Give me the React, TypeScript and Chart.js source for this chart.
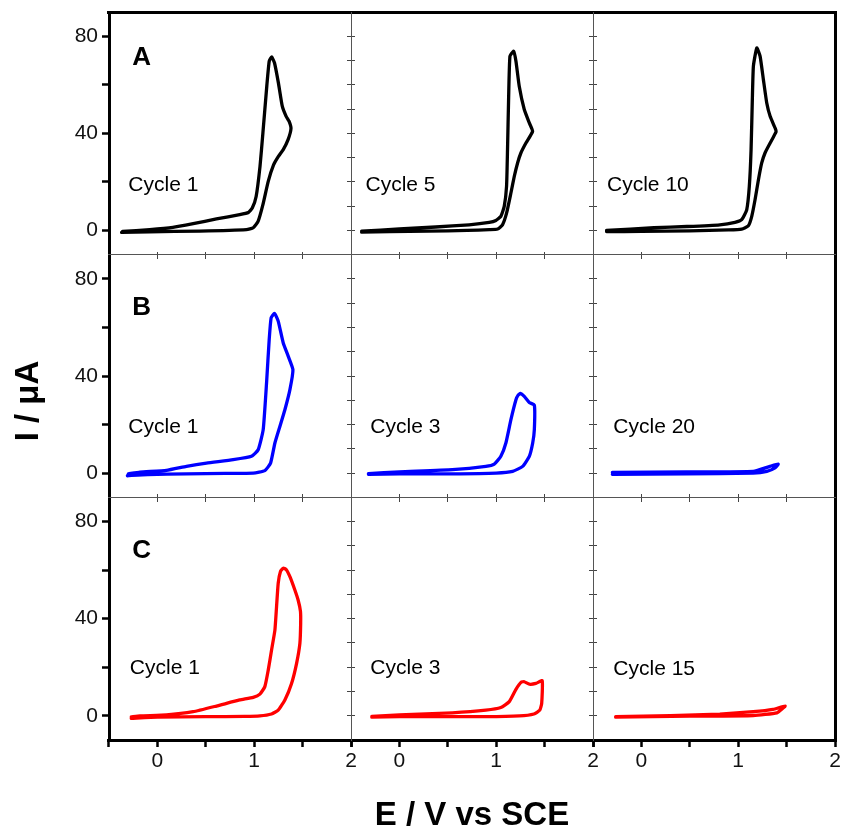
import React, { useEffect, useRef } from 'react';
import { Chart, registerables } from 'chart.js';

Chart.register(...registerables);

// ---- Data: potential E (V vs SCE) and current I (µA) ----
// Row A (black)
const eA1 = [-0.37, -0.08, 0.44, 0.92, 0.99, 1.04, 1.09, 1.145, 1.2, 1.25, 1.3, 1.35, 1.38, 1.36, 1.33, 1.29, 1.25, 1.21, 1.18, 1.155, 1.13, 1.09, 1.06, 1.02, 0.98, 0.94, 0.85, 0.61, 0.37, 0.16, -0.08, -0.36];
const iA1 = [-0.8, -0.55, -0.3, 0.3, 1.1, 3.7, 10.6, 20.2, 27, 30.5, 33.3, 37.4, 42, 45, 47, 51.2, 60.8, 69, 71.5, 69.7, 59.4, 40.2, 26.4, 14, 9.2, 7.4, 6.5, 4.7, 2.75, 1.2, 0.3, -0.4];
const eA2 = [-0.39, -0.1, 0.3, 0.7, 0.93, 1.014, 1.065, 1.107, 1.152, 1.187, 1.221, 1.255, 1.307, 1.376, 1.342, 1.29, 1.238, 1.204, 1.18, 1.142, 1.128, 1.117, 1.107, 1.083, 1.048, 0.997, 0.928, 0.72, 0.375, 0.0, -0.39];
const iA2 = [-0.7, -0.5, -0.3, 0, 0.3, 0.55, 2.3, 7.1, 15.4, 22.3, 27.8, 31.9, 36, 40.8, 44.3, 49.8, 59.4, 69.7, 73.8, 71.8, 53.9, 33.3, 18.2, 9.9, 5.8, 4.1, 3.3, 2.3, 1.4, 0.6, -0.3];
const eA3 = [-0.36, 0.0, 0.5, 0.9, 1.036, 1.105, 1.14, 1.174, 1.209, 1.243, 1.277, 1.33, 1.392, 1.381, 1.33, 1.295, 1.26, 1.226, 1.192, 1.157, 1.146, 1.133, 1.115, 1.088, 1.036, 0.967, 0.81, 0.47, 0.13, -0.36];
const iA3 = [-0.5, -0.4, -0.2, 0.2, 0.55, 1.9, 5.8, 12.6, 20.9, 27.8, 31.9, 36, 40.8, 42.2, 47, 52.5, 62.2, 71.8, 75.2, 67.7, 53.9, 33.3, 18.2, 8.5, 4.4, 3.3, 2.3, 1.6, 1.1, 0];
// Row B (blue)
const eB1 = [-0.31, -0.1, 0.3, 0.7, 0.99, 1.11, 1.169, 1.214, 1.266, 1.317, 1.369, 1.4, 1.352, 1.3, 1.248, 1.21, 1.175, 1.155, 1.128, 1.093, 1.041, 0.972, 0.783, 0.507, 0.3, 0.093, -0.18, -0.3];
const iB1 = [-1.1, -0.6, -0.3, -0.1, 0, 1.0, 4.1, 12.4, 19.3, 26.1, 34.4, 42.6, 48.1, 53.6, 62.6, 65.8, 64, 55, 37.4, 17.9, 9.6, 6.9, 5.5, 4.1, 2.75, 1.1, 0.4, -0.3];
const eB2 = [-0.32, 0, 0.55, 1.0, 1.17, 1.273, 1.342, 1.377, 1.394, 1.394, 1.342, 1.29, 1.25, 1.225, 1.204, 1.152, 1.1, 1.048, 0.98, 0.893, 0.547, 0, -0.32];
const iB2 = [-0.5, -0.3, -0.3, 0, 0.7, 2.75, 6.9, 12.4, 17.9, 28, 29.1, 31.6, 32.8, 32.0, 30.2, 22, 12.4, 6.9, 3.7, 2.75, 1.4, 0.5, -0.2];
const eB3 = [-0.3, 0.466, 1.155, 1.327, 1.413, 1.38, 1.296, 1.155, 0.466, -0.3];
const iB3 = [0.3, 0.5, 0.7, 2.75, 3.7, 2.1, 0.7, 0, -0.3, -0.5];
// Row C (red)
const eC1 = [-0.27, 0, 0.5, 0.9, 1.059, 1.179, 1.248, 1.317, 1.386, 1.438, 1.472, 1.48, 1.478, 1.455, 1.42, 1.369, 1.33, 1.3, 1.272, 1.248, 1.231, 1.214, 1.179, 1.145, 1.11, 1.059, 0.99, 0.85, 0.61, 0.369, 0.093, -0.18, -0.27];
const iC1 = [-1.1, -0.6, -0.4, -0.3, -0.1, 0.7, 2.3, 6.5, 13.3, 21.6, 29.8, 38, 43, 47.5, 51.8, 57.3, 60.3, 60.8, 59.5, 54.6, 45, 35.3, 27, 18.8, 12, 8.9, 7.6, 6.5, 4, 1.65, 0.3, -0.1, -0.5];
const eC2 = [-0.285, 0, 0.893, 1.238, 1.39, 1.45, 1.47, 1.475, 1.41, 1.342, 1.29, 1.256, 1.204, 1.135, 1.048, 0.893, 0.547, 0, -0.285];
const iC2 = [-0.6, -0.4, -0.4, -0.1, 0.7, 2.3, 5.1, 14.4, 13.3, 13, 14, 13.75, 10.9, 5.8, 3.4, 2.3, 1.2, 0.3, -0.3];
const eC3 = [-0.266, 0.3, 0.81, 1.155, 1.36, 1.485, 1.4, 1.155, 0.5, -0.266];
const iC3 = [-0.4, 0, 0.7, 1.65, 2.6, 4.0, 1.2, 0.1, -0.2, -0.6];

// ---- Categories / labels ----
const rowLetters = ['A', 'B', 'C'];
const rowColors = ['#000000', '#0000ff', '#ff0000'];
const cycleLabels = [
  ['Cycle 1', 'Cycle 5', 'Cycle 10'],
  ['Cycle 1', 'Cycle 3', 'Cycle 20'],
  ['Cycle 1', 'Cycle 3', 'Cycle 15'],
];
const xTickLabels = ['0', '1', '2'];
const yTickLabels = ['0', '40', '80'];
const yTickMarks = [0, 20, 40, 60, 80];
const xTitle = 'E / V vs SCE';
const yTitle = 'I / \u03bcA';

const panelE = [[eA1, eA2, eA3], [eB1, eB2, eB3], [eC1, eC2, eC3]];
const panelI = [[iA1, iA2, iA3], [iB1, iB2, iB3], [iC1, iC2, iC3]];

// label anchors in each panel's data coordinates
const letterAnchors = [[-0.26, 68], [-0.26, 65.3], [-0.26, 64.8]];
const cycleAnchors = [
  [[-0.3, 16.1], [-0.35, 16.1], [-0.355, 16.1]],
  [[-0.3, 16.7], [-0.3, 16.7], [-0.29, 16.6]],
  [[-0.285, 17.1], [-0.3, 17], [-0.29, 16.8]],
];

const FONT = '"Liberation Sans", Arial, Helvetica, sans-serif';

const labelsPlugin = {
  id: 'cvLabels',
  afterDraw(chart: any) {
    const ctx = chart.ctx;
    const area = chart.chartArea;
    ctx.save();
    ctx.fillStyle = '#000';
    ctx.textBaseline = 'alphabetic';
    ctx.textAlign = 'left';
    for (let r = 0; r < 3; r++) {
      const ys = chart.scales['y' + r];
      const xs0 = chart.scales['x0'];
      ctx.font = 'bold 26px ' + FONT;
      ctx.fillText(rowLetters[r], xs0.getPixelForValue(letterAnchors[r][0]), ys.getPixelForValue(letterAnchors[r][1]));
      ctx.font = '21px ' + FONT;
      for (let c = 0; c < 3; c++) {
        const xs = chart.scales['x' + c];
        const [ax, ay] = cycleAnchors[r][c];
        ctx.fillText(cycleLabels[r][c], xs.getPixelForValue(ax), ys.getPixelForValue(ay));
      }
    }
    // axis titles
    ctx.font = 'bold 33px ' + FONT;
    ctx.textAlign = 'center';
    ctx.fillText(xTitle, (area.left + area.right) / 2, area.bottom + 85);
    ctx.translate(area.left - 71.5, (area.top + area.bottom) / 2 + 25);
    ctx.rotate(-Math.PI / 2);
    ctx.fillText(yTitle, 0, 0);
    ctx.restore();
  },
};

function buildConfig(): any {
  const datasets: any[] = [];
  for (let r = 0; r < 3; r++) {
    for (let c = 0; c < 3; c++) {
      const e = panelE[r][c];
      const i = panelI[r][c];
      datasets.push({
        label: rowLetters[r] + ' ' + cycleLabels[r][c],
        data: e.map((x, k) => ({ x, y: i[k] })),
        xAxisID: 'x' + c,
        yAxisID: 'y' + r,
        showLine: true,
        borderColor: rowColors[r],
        backgroundColor: rowColors[r],
        borderWidth: 3.3,
        pointRadius: 0,
        tension: 0.15,
        fill: false,
        borderJoinStyle: 'round',
        borderCapStyle: 'round',
      });
    }
  }

  const tickFont = { family: FONT, size: 21 };
  const scales: any = {};
  for (let c = 0; c < 3; c++) {
    scales['x' + c] = {
      type: 'linear', axis: 'x', position: 'bottom', stack: 'cols', stackWeight: 1, weight: c + 1,
      display: true, min: -0.5, max: 2,
      border: { display: true, width: 3, color: '#000' },
      grid: { display: true, drawOnChartArea: false, drawTicks: true, tickLength: 7, tickWidth: 2.5, tickColor: '#000', lineWidth: 3 },
      ticks: {
        stepSize: 0.5, autoSkip: false, maxRotation: 0, minRotation: 0, padding: 2, color: '#111', font: tickFont,
        callback: (v: number) => (xTickLabels.includes(String(v)) ? String(v) : ''),
      },
      afterFit: (s: any) => { s.height = 89; s.paddingLeft = 0; s.paddingRight = 0; },
    };
  }
  for (let r = 0; r < 3; r++) {
    scales['y' + r] = {
      type: 'linear', axis: 'y', position: 'left', stack: 'rows', stackWeight: 1, weight: 10 - r,
      display: true, min: -10, max: 90,
      border: { display: true, width: 3, color: '#000' },
      grid: {
        display: true, drawOnChartArea: false, drawTicks: true, tickLength: 7, tickWidth: 2.5, lineWidth: 3,
        tickColor: (ctx: any) => (ctx.tick && yTickMarks.includes(ctx.tick.value) ? '#000' : 'rgba(0,0,0,0)'),
      },
      ticks: {
        stepSize: 10, autoSkip: false, padding: 4, color: '#111', font: tickFont,
        callback: (v: number) => (yTickLabels.includes(String(v)) ? String(v) : ''),
      },
      afterFit: (s: any) => { s.width = 40; s.paddingTop = 0; s.paddingBottom = 0; },
    };
  }
  // outer frame (top and right)
  scales.xFrameTop = {
    type: 'linear', axis: 'x', position: 'top', display: true, min: 0, max: 1,
    border: { display: true, width: 3, color: '#000' },
    grid: { display: false, drawTicks: false, lineWidth: 3 },
    ticks: { display: false },
    afterFit: (s: any) => { s.height = 0; s.paddingLeft = 0; s.paddingRight = 0; },
  };
  scales.yFrameRight = {
    type: 'linear', axis: 'y', position: 'right', display: true, min: 0, max: 1,
    border: { display: true, width: 3, color: '#000' },
    grid: { display: false, drawTicks: false, lineWidth: 3 },
    ticks: { display: false },
    afterFit: (s: any) => { s.width = 0; s.paddingTop = 0; s.paddingBottom = 0; },
  };
  // inner separators with crossing ticks
  const sepV = (pos: any, tl: number, border: boolean) => ({
    type: 'linear', axis: 'y', position: pos, display: true, min: -10, max: 290,
    border: { display: border, width: 1, color: '#555' },
    grid: { display: true, drawOnChartArea: false, drawTicks: true, tickLength: tl, tickWidth: 1, tickColor: '#444' },
    ticks: { display: false, stepSize: 10, autoSkip: false },
  });
  const sepH = (pos: any, tl: number, border: boolean) => ({
    type: 'linear', axis: 'x', position: pos, display: true, min: -0.5, max: 7,
    border: { display: border, width: 1, color: '#555' },
    grid: { display: true, drawOnChartArea: false, drawTicks: true, tickLength: tl, tickWidth: 1, tickColor: '#444' },
    ticks: { display: false, stepSize: 0.5, autoSkip: false },
  });
  scales.ySep1 = sepV({ x0: 2 }, 4, true);
  scales.ySep1m = sepV({ x0: 2 }, -4, false);
  scales.ySep2 = sepV({ x1: 2 }, 4, true);
  scales.ySep2m = sepV({ x1: 2 }, -4, false);
  scales.xSep1 = sepH({ y0: -10 }, 4, true);
  scales.xSep1m = sepH({ y0: -10 }, -3, false);
  scales.xSep2 = sepH({ y1: -10 }, 4, true);
  scales.xSep2m = sepH({ y1: -10 }, -3, false);

  return {
    type: 'scatter',
    data: { datasets },
    options: {
      responsive: false,
      animation: false,
      layout: { padding: { left: 69, right: 7, top: 12, bottom: 0 } },
      plugins: { legend: { display: false }, tooltip: { enabled: false } },
      scales,
    },
    plugins: [labelsPlugin],
  };
}

export default function App() {
  const ref = useRef<HTMLCanvasElement>(null);
  useEffect(() => {
    if (!ref.current) return;
    const chart = new Chart(ref.current, buildConfig());
    return () => chart.destroy();
  }, []);
  return (
    <div style={{ position: 'fixed', left: 0, top: 0, width: 842, height: 829, background: '#fff' }}>
      <canvas ref={ref} width={842} height={829} style={{ display: 'block', width: 842, height: 829 }} />
    </div>
  );
}
